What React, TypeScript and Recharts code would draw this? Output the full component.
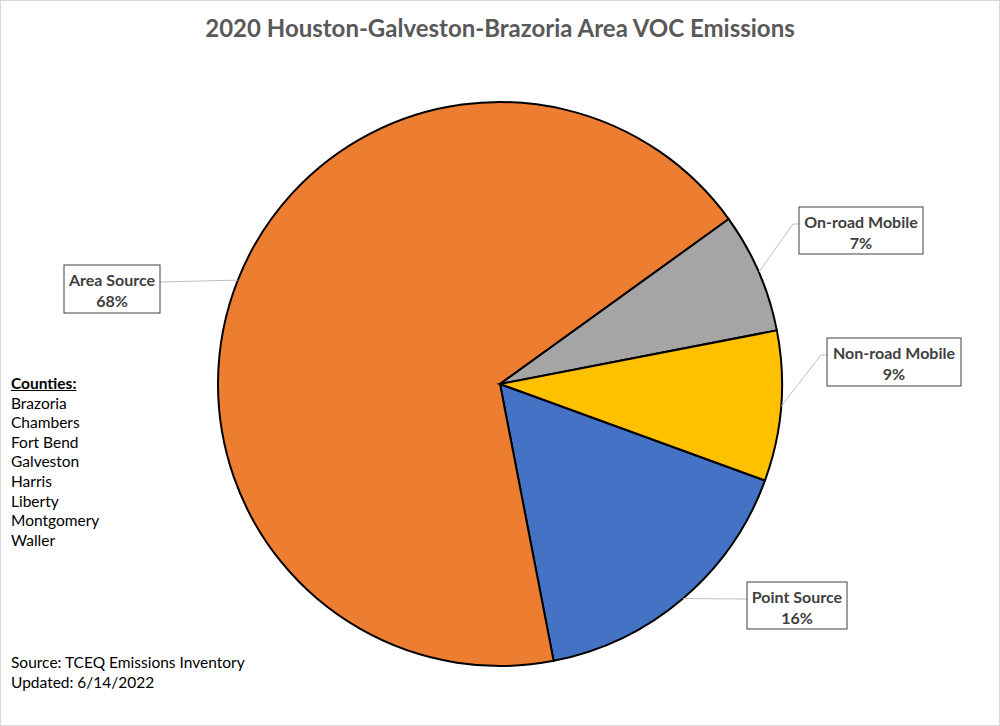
import React from 'react'
import { PieChart, Pie, Cell } from 'recharts'

const NAMES = ['Point Source', 'Area Source', 'On-road Mobile', 'Non-road Mobile']
const SHARES = [16.4, 68.1, 6.9, 8.6]
const COUNTIES = ['Brazoria', 'Chambers', 'Fort Bend', 'Galveston', 'Harris', 'Liberty', 'Montgomery', 'Waller']
const COLORS = ['#4472C4', '#ED7D31', '#A5A5A5', '#FFC000']
// label box placement (left, top, width, height), same order as NAMES
const BOXES = [
  [747, 582, 100, 47],
  [64, 265, 96, 48],
  [799, 207, 124, 47],
  [827, 338, 134, 48],
]

const data = NAMES.map((n, i) => ({ name: n, value: SHARES[i] }))
const FONT = 'Lato, "Open Sans", sans-serif'
const RAD = Math.PI / 180

function renderLabel(p: any) {
  const { cx, cy, midAngle, outerRadius, index, percent, name } = p
  const [bx, by, bw, bh] = BOXES[index]
  const ax = cx + outerRadius * Math.cos(-midAngle * RAD)
  const ay = cy + outerRadius * Math.sin(-midAngle * RAD)
  const ly = by + 17
  const left = ax > bx + bw / 2
  const edge = left ? bx + bw : bx
  const stub = left ? edge : edge - 6
  return (
    <g key={'lbl' + index}>
      <polyline points={`${ax},${ay} ${stub},${ly} ${edge},${ly}`} fill="none" stroke="#BFBFBF" strokeWidth={1} />
      <rect x={bx} y={by} width={bw} height={bh} fill="#fff" stroke="#404040" strokeWidth={1} />
      <text x={bx + bw / 2} y={by + 14} textAnchor="middle" dominantBaseline="central" fill="#404040" fontFamily={FONT} fontWeight={700} fontSize={16}>{name}</text>
      <text x={bx + bw / 2} y={by + 35} textAnchor="middle" dominantBaseline="central" fill="#404040" fontFamily={FONT} fontWeight={700} fontSize={16}>{Math.round(percent * 100)}%</text>
    </g>
  )
}

export default function App() {
  return (
    <div style={{ position: 'absolute', left: 0, top: 0, width: 1000, height: 726, background: '#fff', fontFamily: FONT }}>
      <div style={{ position: 'absolute', inset: 0, border: '1px solid #D9D9D9', boxSizing: 'border-box' }} />
      <div style={{ position: 'absolute', top: 12, left: 0, width: 1000, textAlign: 'center', fontSize: 24, fontWeight: 700, color: '#595959', lineHeight: '32px' }}>
        2020 Houston-Galveston-Brazoria Area VOC Emissions
      </div>
      <div style={{ position: 'absolute', left: 0, top: 0 }}>
        <PieChart width={1000} height={726} margin={{ top: 0, right: 0, bottom: 0, left: 0 }}>
          <Pie data={data} dataKey="value" nameKey="name" cx={500} cy={384} outerRadius={282}
            startAngle={-20} endAngle={-380} stroke="#000" strokeWidth={2}
            label={renderLabel} labelLine={false} isAnimationActive={false}>
            {data.map((e, i) => (<Cell key={e.name} fill={COLORS[i]} />))}
          </Pie>
        </PieChart>
      </div>
      <div style={{ position: 'absolute', left: 11, top: 374, fontSize: 15.5, lineHeight: '19.6px', color: '#000' }}>
        <div style={{ fontWeight: 700, textDecoration: 'underline' }}>Counties:</div>
        {COUNTIES.map(c => (<div key={c}>{c}</div>))}
      </div>
      <div style={{ position: 'absolute', left: 11, top: 652, fontSize: 15.5, lineHeight: '20px', color: '#000' }}>
        <div>Source: TCEQ Emissions Inventory</div>
        <div>Updated: 6/14/2022</div>
      </div>
    </div>
  )
}
